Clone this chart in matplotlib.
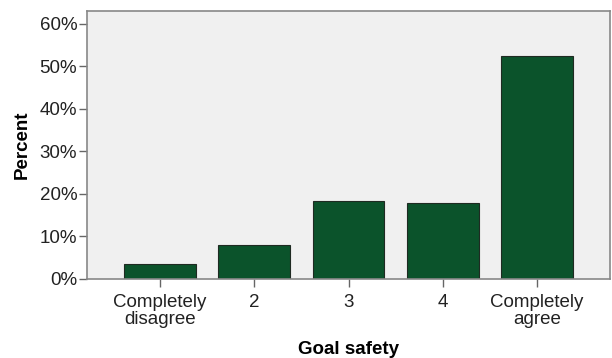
import matplotlib.pyplot as plt
import numpy as np

categories = ['Completely\ndisagree', '2', '3', '4', 'Completely\nagree']
percent = [3.5, 8.0, 18.3, 17.9, 52.5]
yticks = [0, 10, 20, 30, 40, 50, 60]

plt.rcParams['font.family'] = ['Liberation Sans', 'DejaVu Sans']

fig = plt.figure(figsize=(6.12, 3.58), dpi=100)
ax = fig.add_axes([0.142, 0.221, 0.855, 0.748])
ax.set_facecolor('#f0f0f0')

x = np.arange(len(categories))
ax.bar(x, percent, width=0.76, color='#0b532b', edgecolor='#1f2a22', linewidth=0.8)

ax.set_xlim(-0.775, 4.775)
ax.set_ylim(0, 63)
ax.set_yticks(yticks)
ax.set_yticklabels([f'{t}%' for t in yticks], fontsize=13.5, color='#222222')
ax.set_xticks(x)
ax.set_xticklabels(categories, fontsize=13.5, color='#222222', linespacing=1.0)
ax.tick_params(axis='y', length=6, color='#666666', width=1, pad=1)
ax.tick_params(axis='x', length=6, color='#666666', width=1, pad=5)

for s in ax.spines.values():
    s.set_color('#888888')
    s.set_linewidth(1.2)

ax.set_ylabel('Percent', fontsize=13.5, fontweight='bold', labelpad=6)
ax.set_xlabel('Goal safety', fontsize=13.5, fontweight='bold', labelpad=9)

plt.savefig('out.png', dpi=100)
